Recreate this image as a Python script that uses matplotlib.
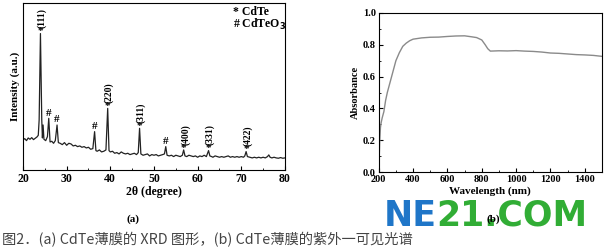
import matplotlib
matplotlib.use("Agg")
import matplotlib.pyplot as plt
from matplotlib.ticker import MultipleLocator, FormatStrFormatter

# XRD 图 (a)：2θ 与强度（由图读出，任意单位）
two_theta = [20.0, 20.4, 20.8, 21.2, 21.6, 22.0, 22.4, 22.8, 23.2, 23.5, 23.7,
             24.0, 24.3, 24.45, 24.6, 24.8, 25.2, 25.6, 25.9, 26.2, 26.6, 27.0,
             27.4, 27.8, 28.1, 28.5, 29.0, 29.5, 30.0, 30.5, 31.0, 31.5, 32.0,
             32.5, 33.0, 33.5, 34.0, 34.5, 35.0, 35.5, 36.0, 36.4, 36.7, 37.0,
             37.5, 38.0, 38.5, 39.0, 39.4, 39.7, 40.0, 40.5, 41.0, 41.5, 42.0,
             42.5, 43.0, 43.5, 44.0, 44.5, 45.0, 45.5, 46.0, 46.4, 46.7, 47.0,
             47.5, 48.0, 48.5, 49.0, 49.5, 50.0, 50.5, 51.0, 51.5, 52.0, 52.4,
             52.7, 53.0, 53.5, 54.0, 54.5, 55.0, 55.5, 56.0, 56.5, 56.8, 57.1,
             57.5, 58.0, 58.5, 59.0, 59.5, 60.0, 60.5, 61.0, 61.5, 62.0, 62.5,
             62.8, 63.2, 63.5, 64.0, 64.5, 65.0, 65.5, 66.0, 66.5, 67.0, 67.5,
             68.0, 68.5, 69.0, 69.5, 70.0, 70.5, 70.8, 71.1, 71.4, 72.0, 72.5,
             73.0, 73.5, 74.0, 74.5, 75.0, 75.5, 76.0, 76.3, 76.6, 77.0, 77.5,
             78.0, 78.5, 79.0, 79.5, 80.0]
intensity = [90, 94, 88, 96, 92, 97, 91, 95, 99, 104, 150,
             410, 150, 96, 135, 92, 88, 100, 155, 84, 86, 80,
             88, 135, 82, 80, 76, 82, 74, 80, 78, 72, 74,
             70, 72, 68, 70, 66, 68, 62, 64, 115, 58, 56,
             60, 54, 56, 60, 185, 58, 54, 56, 50, 52, 48,
             54, 50, 48, 50, 46, 48, 50, 46, 52, 125, 48,
             44, 46, 48, 42, 46, 44, 46, 42, 44, 46, 48,
             70, 44, 42, 44, 40, 44, 42, 40, 44, 60, 42,
             40, 44, 42, 40, 42, 38, 42, 40, 44, 40, 58,
             42, 40, 38, 42, 40, 38, 40, 38, 40, 42, 38,
             40, 38, 40, 38, 40, 38, 42, 55, 40, 38, 36,
             38, 36, 38, 36, 38, 36, 40, 45, 38, 36, 38,
             36, 35, 37, 35, 36]

# CdTe 衍射峰标注
cdte_pos = [23.9, 39.3, 46.6, 56.8, 62.5, 71.1]
cdte_top = [410, 185, 125, 60, 58, 55]
cdte_hkl = ["(111)", "(220)", "(311)", "(400)", "(331)", "(422)"]
oxide_pos = [25.9, 27.8, 36.4, 52.7]
oxide_top = [155, 135, 115, 70]

# 紫外-可见吸收谱 (b)
wavelength = [200, 203, 206, 210, 214, 220, 230, 240, 250, 260, 275, 290,
              300, 320, 340, 360, 380, 400, 450, 500, 550, 600, 650, 700,
              740, 770, 800, 820, 835, 850, 900, 950, 1000, 1050, 1100,
              1150, 1200, 1250, 1300, 1350, 1400, 1450, 1500]
absorbance = [0.0, 0.1, 0.2, 0.28, 0.31, 0.34, 0.38, 0.45, 0.5, 0.54, 0.6, 0.66,
              0.7, 0.75, 0.79, 0.81, 0.825, 0.835, 0.843, 0.847, 0.848, 0.852, 0.855, 0.856,
              0.85, 0.845, 0.83, 0.80, 0.775, 0.76, 0.762, 0.761, 0.763, 0.760, 0.758,
              0.754, 0.748, 0.746, 0.742, 0.738, 0.736, 0.733, 0.727]

plt.rcParams["font.family"] = ["Liberation Serif", "DejaVu Serif"]
plt.rcParams["font.weight"] = "bold"

fig = plt.figure(figsize=(6.05, 2.48), dpi=100)

# ---- (a) XRD ----
ax1 = fig.add_axes([0.038, 0.315, 0.433, 0.673])
ax1.plot(two_theta, intensity, color="#222222", lw=0.9)
ax1.set_xlim(20, 80)
ax1.set_ylim(0, 502)
ax1.set_yticks([])
ax1.xaxis.set_major_locator(MultipleLocator(10))
ax1.xaxis.set_minor_locator(MultipleLocator(5))
ax1.tick_params(axis="x", which="both", direction="in", labelsize=8.5, pad=2)
ax1.tick_params(axis="x", which="major", length=3)
ax1.tick_params(axis="x", which="minor", length=1.5)
for lab in ax1.get_xticklabels():
    lab.set_fontweight("bold")
ax1.set_xlabel("2θ (degree)", fontsize=8.5, fontweight="bold", labelpad=1)
ax1.set_ylabel("Intensity (a.u.)", fontsize=8, fontweight="bold", labelpad=2)

for p, t, h in zip(cdte_pos, cdte_top, cdte_hkl):
    ax1.text(p, t - 8, "*", ha="center", va="bottom", fontsize=8, fontweight="bold")
    ax1.text(p + 0.4, t + 16, h, ha="center", va="bottom", rotation=90,
             fontsize=7, fontweight="bold")
for p, t in zip(oxide_pos, oxide_top):
    ax1.text(p, t + 2, "#", ha="center", va="bottom", fontsize=8, fontweight="bold")

ax1.text(0.80, 0.945, "* CdTe", transform=ax1.transAxes, fontsize=8.5,
         fontweight="bold", ha="left", va="center")
ax1.text(0.80, 0.87, "# CdTeO$_\\mathbf{3}$", transform=ax1.transAxes, fontsize=8.5,
         fontweight="bold", ha="left", va="center")

# ---- (b) UV-Vis ----
ax2 = fig.add_axes([0.626, 0.306, 0.369, 0.642])
ax2.plot(wavelength, absorbance, color="#8a8a8a", lw=1.0)
ax2.set_xlim(200, 1500)
ax2.set_ylim(0, 1.0)
ax2.xaxis.set_major_locator(MultipleLocator(200))
ax2.xaxis.set_minor_locator(MultipleLocator(100))
ax2.yaxis.set_major_locator(MultipleLocator(0.2))
ax2.yaxis.set_minor_locator(MultipleLocator(0.1))
ax2.yaxis.set_major_formatter(FormatStrFormatter("%.1f"))
ax2.tick_params(which="both", direction="in", labelsize=7.5, pad=2)
ax2.tick_params(which="major", length=3)
ax2.tick_params(which="minor", length=1.5)
for lab in ax2.get_xticklabels() + ax2.get_yticklabels():
    lab.set_fontweight("bold")
ax2.set_xlabel("Wavelength (nm)", fontsize=8, fontweight="bold", labelpad=2)
ax2.set_ylabel("Absorbance", fontsize=7.5, fontweight="bold", labelpad=2)

fig.text(0.22, 0.118, "(a)", fontsize=8, fontweight="bold", ha="center", va="center")
fig.text(0.815, 0.118, "(b)", fontsize=8, fontweight="bold", ha="center", va="center")

# 图注
fig.text(0.004, 0.032, "图2．(a) CdTe薄膜的 XRD 图形，(b) CdTe薄膜的紫外一可见光谱",
         family=["Noto Sans CJK SC", "DejaVu Sans"], fontsize=10.3, fontweight="normal",
         color="#444444", ha="left", va="center")

# 水印
wm1 = fig.text(0.634, 0.13, "NE", family="DejaVu Sans", fontsize=25, fontweight="bold",
               color="#1f76c8", ha="left", va="center")
ax2.annotate("21.COM", xy=(1, 0), xycoords=wm1, ha="left", va="bottom",
             family="DejaVu Sans", fontsize=25, fontweight="bold",
             color="#31ad35", annotation_clip=False)

fig.savefig("out.png", dpi=100)
